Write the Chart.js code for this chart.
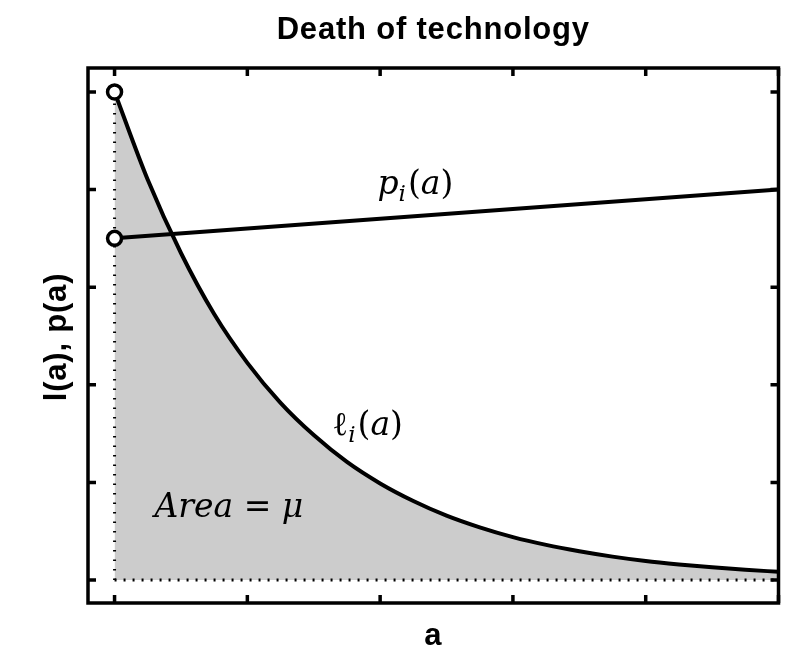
<!DOCTYPE html>
<html>
<head>
<meta charset="utf-8">
<title>Death of technology</title>
<script src="https://cdn.jsdelivr.net/npm/chart.js@4.4.1/dist/chart.umd.min.js"></script>
<style>
    html, body { margin: 0; padding: 0; background: #ffffff; }
    #wrap { width: 789px; height: 659px; }
</style>
</head>
<body>
<div id="wrap"><canvas id="deathChart" width="789" height="659"></canvas></div>
<script>
// Values
const ages = [0, 0.25, 0.5, 0.75, 1, 1.25, 1.5, 1.75, 2, 2.25, 2.5, 2.75, 3, 3.25, 3.5, 3.75, 4, 4.25, 4.5, 4.75, 5];
const survival = [1.00, 0.82, 0.67, 0.545, 0.445, 0.363, 0.297, 0.242, 0.198, 0.162, 0.132, 0.108, 0.088, 0.072, 0.059, 0.048, 0.039, 0.032, 0.026, 0.021, 0.017];
const priceAges = [0, 5];
const price = [0.70, 0.80];
const xTicks = [0, 1, 2, 3, 4, 5];
const yTicks = [0, 0.2, 0.4, 0.6, 0.8, 1.0];

const toPoints = (xs, ys) => xs.map((x, i) => ({ x: x, y: ys[i] }));

// Axes box, inward tick marks and text labels (MATLAB look)
const framePlugin = {
    id: 'frame',
    afterDraw(chart) {
        const ctx = chart.ctx;
        const area = chart.chartArea;
        const xs = chart.scales.x;
        const ys = chart.scales.y;
        ctx.save();
        ctx.strokeStyle = '#000';
        ctx.lineWidth = 3.5;
        ctx.strokeRect(area.left, area.top, area.right - area.left, area.bottom - area.top);

        // tick marks pointing inward on all four sides
        ctx.lineWidth = 3.5;
        const len = 8;
        ctx.beginPath();
        xTicks.forEach(t => {
            const px = xs.getPixelForValue(t);
            ctx.moveTo(px, area.bottom); ctx.lineTo(px, area.bottom - len);
            ctx.moveTo(px, area.top); ctx.lineTo(px, area.top + len);
        });
        yTicks.forEach(t => {
            const py = ys.getPixelForValue(t);
            ctx.moveTo(area.left, py); ctx.lineTo(area.left + len, py);
            ctx.moveTo(area.right, py); ctx.lineTo(area.right - len, py);
        });
        ctx.stroke();

        // title and axis labels
        ctx.fillStyle = '#000';
        ctx.textAlign = 'center';
        ctx.textBaseline = 'alphabetic';
        ctx.font = 'bold 31px "Liberation Sans", Arial, sans-serif';
        ctx.letterSpacing = '0.8px';
        ctx.fillText('Death of technology', (area.left + area.right) / 2, 39);
        ctx.fillText('a', (area.left + area.right) / 2, 645);
        ctx.save();
        ctx.translate(66, 337);
        ctx.rotate(-Math.PI / 2);
        ctx.fillText('l(a), p(a)', 0, 0);
        ctx.restore();
        ctx.letterSpacing = '0px';

        // math annotations
        drawMath(ctx, [['p', 'i'], ['i', 's'], ['(', 'u'], ['a', 'i'], [')', 'u']],
            xs.getPixelForValue(1.98), ys.getPixelForValue(0.79), 33);
        drawMath(ctx, [['\u2113', 'u'], ['i', 's'], ['(', 'u'], ['a', 'i'], [')', 'u']],
            xs.getPixelForValue(1.64), ys.getPixelForValue(0.297), 33);
        drawMath(ctx, [['Area', 'i'], [' = ', 'u'], ['\u03bc', 'i']],
            xs.getPixelForValue(0.30), ys.getPixelForValue(0.129), 33);
        ctx.restore();
    }
};

// draw a run of italic / upright / subscript pieces from a left baseline point
function drawMath(ctx, parts, x, y, size) {
    ctx.textAlign = 'left';
    let cx = x;
    parts.forEach(([txt, kind]) => {
        let fs = size, dy = 0, style = '';
        if (kind === 'i') style = 'italic ';
        if (kind === 's') { style = 'italic '; fs = size * 0.7; dy = size * 0.2; }
        ctx.font = style + fs + 'px "DejaVu Serif", "Liberation Serif", serif';
        ctx.fillText(txt, cx, y + dy);
        cx += ctx.measureText(txt).width + (kind === 's' ? 2 : 0);
    });
}

document.addEventListener('DOMContentLoaded', function() {
    const ctx = document.getElementById('deathChart').getContext('2d');
    new Chart(ctx, {
        type: 'line',
        data: {
            datasets: [
                {
                    // open circles at the starting values
                    type: 'scatter',
                    data: [{ x: 0, y: survival[0] }, { x: 0, y: price[0] }],
                    pointRadius: 7,
                    pointBorderWidth: 3.5,
                    pointBorderColor: '#000',
                    pointBackgroundColor: '#fff',
                    showLine: false
                },
                {
                    data: toPoints(priceAges, price),
                    borderColor: '#000',
                    borderWidth: 4,
                    pointRadius: 0,
                    fill: false
                },
                {
                    // dotted baseline
                    data: [{ x: 0, y: 0 }, { x: 5, y: 0 }],
                    borderColor: '#000',
                    borderWidth: 3,
                    borderDash: [2, 7],
                    pointRadius: 0,
                    fill: false
                },
                {
                    // dotted left edge of the area
                    data: [{ x: 0, y: 0 }, { x: 0, y: 1 }],
                    borderColor: '#000',
                    borderWidth: 3,
                    borderDash: [1.5, 8],
                    pointRadius: 0,
                    fill: false
                },
                {
                    data: toPoints(ages, survival),
                    borderColor: '#000',
                    borderWidth: 4,
                    backgroundColor: '#cccccc',
                    fill: { value: 0 },
                    pointRadius: 0,
                    cubicInterpolationMode: 'monotone'
                }
            ]
        },
        options: {
            responsive: false,
            animation: false,
            layout: { padding: { left: 88, top: 68, right: 9, bottom: 56 } },
            plugins: {
                legend: { display: false },
                tooltip: { enabled: false },
                title: { display: false }
            },
            scales: {
                x: { type: 'linear', min: -0.2, max: 5, display: false },
                y: { type: 'linear', min: -0.047, max: 1.049, display: false }
            }
        },
        plugins: [framePlugin]
    });
});
</script>
</body>
</html>
